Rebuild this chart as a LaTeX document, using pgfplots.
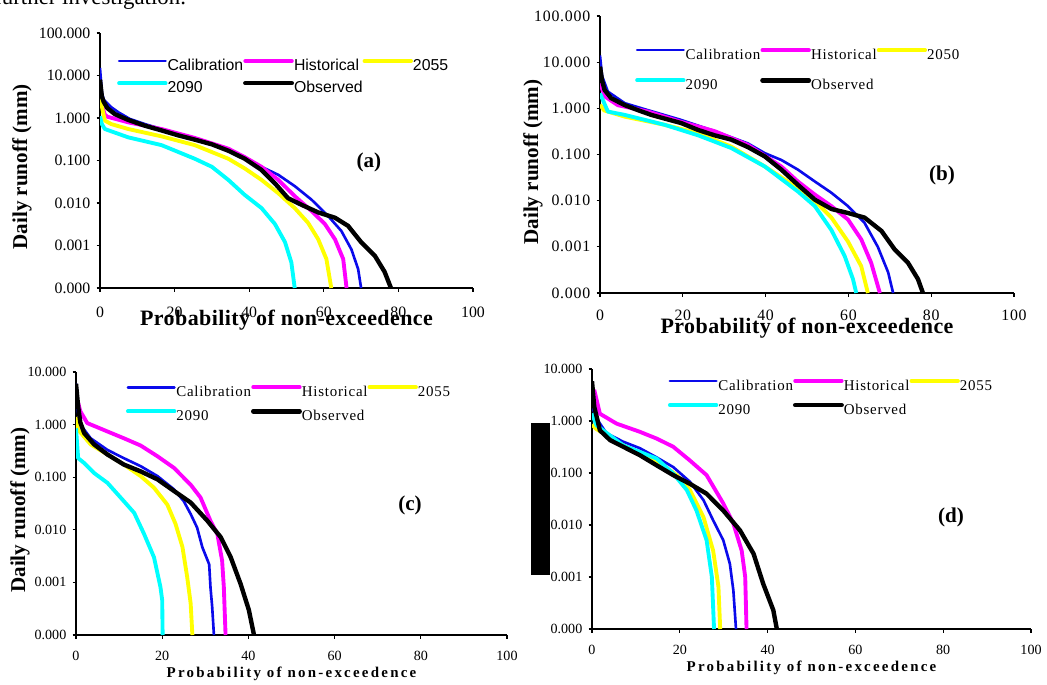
\documentclass[border=0pt]{standalone}
\usepackage{fontspec}
\setmainfont{Liberation Serif}
\newfontfamily\arialf{Liberation Sans}
\newfontfamily\spserif[LetterSpace=5]{Liberation Serif}
\newfontfamily\bigbold[LetterSpace=2]{Liberation Serif}
\newfontfamily\wideserif[LetterSpace=15]{Liberation Serif}
\usepackage{pgfplots}
\pgfplotsset{compat=1.18}

\definecolor{cblue}{RGB}{10,10,235}
\definecolor{cmag}{RGB}{255,0,255}
\definecolor{cyel}{RGB}{255,255,0}
\definecolor{ccyan}{RGB}{0,255,255}

\pgfplotsset{
  fdcaxis/.style={
    scale only axis,
    xmin=0, xmax=100, ymin=1e-4,
    axis x line*=bottom, axis y line*=left,
    axis line style={-, line width=0.6pt},
    tick style={line width=0.6pt, black},
    tick align=outside, major tick length=0.07cm,
    yminorticks=false, xminorticks=false,
    xtick={0,20,40,60,80,100},
    xticklabels={0,20,40,60,80,100},
    ytick={1e-4,1e-3,1e-2,1e-1,1,10,100},
    yticklabels={0.000,0.001,0.010,0.100,1.000,10.000,100.000},
    xticklabel style={anchor=center, yshift=-0.35cm},
    yticklabel style={anchor=east},
    legend columns=3,
    legend cell align=left,
    legend style={draw=none, fill=none, inner sep=0pt, outer sep=0pt,
      anchor=north west,
      nodes={inner xsep=0pt, inner ysep=0pt, text height=6.5pt, text depth=1.5pt},
      every odd column/.style={column sep=0.05cm}},
    legend image code/.code={\draw[##1, line cap=round] (0cm,0.1cm) -- (0.93cm,0.1cm);},
    no marks,
    line join=round,
  },
  cal/.style={color=cblue, line width=1.5pt},
  his/.style={color=cmag, line width=2.2pt},
  fut/.style={color=cyel, line width=2.2pt},
  far/.style={color=ccyan, line width=2.2pt},
  obs/.style={color=black, line width=2.5pt},
}

\begin{document}
\begin{tikzpicture}
\useasboundingbox (0,0) rectangle (20.94cm,13.68cm);
\node[anchor=base west, inner sep=0pt, font=\fontsize{13}{15}\selectfont] at (-0.12cm,13.58cm) {further investigation.};

% ---------------- (a)
\begin{axis}[ymode=log, fdcaxis, at={(2.00cm,7.92cm)}, anchor=south west,
  width=7.46cm, height=5.10cm, ymax=100,
  ticklabel style={font=\fontsize{9}{10}\selectfont},
  xticklabel style={yshift=-0.06cm},
  xlabel={Probability of non-exceedence},
  xlabel style={at={(axis description cs:0.5,-0.125)}, anchor=center, font=\bigbold\fontsize{12.5}{14}\selectfont\bfseries},
  ylabel={Daily runoff (mm)},
  ylabel style={at={(axis description cs:-0.209,0.475)}, anchor=center, font=\fontsize{12}{14}\selectfont\bfseries},
  legend style={at={(axis description cs:0.046,0.898)}, font=\arialf\fontsize{9}{10}\selectfont,
    row sep=0.16cm, column 2/.style={column sep=0.02cm}, column 4/.style={column sep=0.2cm}},
]
\addplot[cal] coordinates {(0,15) (0.5,4) (1,2.7) (3,1.8) (5,1.35) (8,0.95) (12,0.72) (16.5,0.55) (21,0.42) (25.4,0.32) (30,0.25) (34.4,0.18) (38.8,0.12) (43.3,0.071) (47.8,0.046) (52.2,0.025) (56.7,0.012) (61.2,0.0049) (64.7,0.0022) (67.4,0.00081) (69.2,0.00028) (70,0.0001)};
\addlegendentry{Calibration}
\addplot[his] coordinates {(0,3.5) (0.5,2) (1.3,1.2) (2,1.07) (7.6,0.79) (16.5,0.55) (25.4,0.34) (34.4,0.19) (38.8,0.12) (43.3,0.071) (47.8,0.035) (52.2,0.0145) (56.7,0.0065) (60.3,0.0032) (63,0.0014) (65.2,0.00048) (66.1,0.0001)};
\addlegendentry{Historical}
\addplot[fut] coordinates {(0,3) (1.3,0.87) (3,0.72) (7.6,0.55) (16.5,0.37) (25.4,0.23) (34.4,0.11) (38.8,0.065) (43.3,0.035) (47.8,0.017) (52.2,0.0076) (55.8,0.0034) (58.5,0.0014) (60.7,0.00048) (62,0.0001)};
\addlegendentry{2055}
\addplot[far] coordinates {(0,1.1) (0.5,0.72) (1.3,0.55) (7.6,0.35) (16.5,0.23) (25.4,0.11) (30,0.071) (34.4,0.035) (38.8,0.0155) (43.3,0.0076) (46.9,0.0032) (49.6,0.0012) (51.3,0.0004) (52.2,0.0001)};
\addlegendentry{2090}
\addplot[obs] coordinates {(0,8) (0.5,3.2) (1,2.4) (2,1.7) (4,1.23) (7.6,0.9) (12,0.66) (16.5,0.51) (21,0.39) (25.4,0.31) (30,0.24) (34.4,0.17) (38.8,0.11) (43.3,0.06) (46.9,0.029) (50.4,0.013) (54,0.0091) (58.5,0.006) (63,0.0045) (66.5,0.0029) (70,0.0012) (73.7,0.00057) (76.3,0.00024) (78,0.0001)};
\addlegendentry{Observed}
\node[font=\fontsize{12}{14}\selectfont\bfseries] at (axis description cs:0.721,0.494) {(a)};
\end{axis}

% ---------------- (b)
\begin{axis}[ymode=log, fdcaxis, at={(12.00cm,7.82cm)}, anchor=south west,
  width=8.28cm, height=5.54cm, ymax=100,
  ticklabel style={font=\spserif\fontsize{9}{10}\selectfont},
  xticklabel style={yshift=-0.02cm},
  xlabel={Probability of non-exceedence},
  xlabel style={at={(axis description cs:0.5,-0.126)}, anchor=center, font=\bigbold\fontsize{12.5}{14}\selectfont\bfseries},
  ylabel={Daily runoff (mm)},
  ylabel style={at={(axis description cs:-0.162,0.473)}, anchor=center, font=\fontsize{12}{14}\selectfont\bfseries},
  legend style={at={(axis description cs:0.085,0.884)}, font=\spserif\fontsize{8.5}{10}\selectfont,
    row sep=0.32cm, column 2/.style={column sep=0.38cm}, column 4/.style={column sep=0.5cm}},
]
\addplot[cal] coordinates {(0,14) (0.5,5) (1.9,2.3) (6,1.29) (11.6,0.91) (19.6,0.56) (27.7,0.32) (35.7,0.174) (39.8,0.107) (43.8,0.076) (47.8,0.047) (51.9,0.026) (55.9,0.0148) (59.9,0.0076) (63.9,0.0033) (67.1,0.001) (69.6,0.00028) (70.8,0.0001)};
\addlegendentry{Calibration}
\addplot[his] coordinates {(0,3.5) (1.2,1.8) (4.3,1.17) (11.6,0.85) (19.6,0.51) (27.7,0.32) (35.7,0.162) (43.8,0.055) (47.8,0.026) (51.9,0.0135) (55.9,0.0076) (59.9,0.0039) (63.1,0.00145) (65.5,0.00045) (67.6,0.0001)};
\addlegendentry{Historical}
\addplot[fut] coordinates {(0,1.2) (1,0.9) (6,0.66) (15.6,0.44) (23.7,0.29) (31.7,0.148) (39.8,0.055) (47.8,0.0186) (51.9,0.0098) (55.9,0.0043) (59.9,0.0013) (63.1,0.00038) (64.7,0.0001)};
\addlegendentry{2050}
\addplot[far] coordinates {(0,2.1) (1.9,0.85) (6,0.72) (15.6,0.44) (23.7,0.26) (31.7,0.138) (39.8,0.055) (47.8,0.0158) (51.9,0.0076) (55.9,0.0023) (59.1,0.00063) (61.1,0.0002) (61.9,0.0001)};
\addlegendentry{2090}
\addplot[obs] coordinates {(0,8) (0.5,4) (1.1,2.5) (2.7,1.66) (6,1.17) (9.2,0.91) (12.4,0.72) (15.6,0.6) (19.6,0.48) (23.7,0.34) (27.7,0.26) (31.7,0.21) (35.7,0.145) (39.8,0.091) (43.8,0.047) (47.8,0.022) (51.9,0.0105) (55.9,0.0066) (59.9,0.0054) (63.9,0.0043) (68,0.0022) (71.2,0.00087) (74.4,0.00045) (76.8,0.0002) (78,0.0001)};
\addlegendentry{Observed}
\node[font=\fontsize{12}{14}\selectfont\bfseries] at (axis description cs:0.826,0.426) {(b)};
\end{axis}

% ---------------- (c)
\begin{axis}[ymode=log, fdcaxis, at={(1.52cm,0.98cm)}, anchor=south west,
  width=8.62cm, height=5.26cm, ymax=10,
  ticklabel style={font=\fontsize{8}{9}\selectfont},
  xlabel={Probability of non-exceedence},
  xlabel style={at={(axis description cs:0.5,-0.148)}, anchor=center, font=\wideserif\fontsize{8.5}{10}\selectfont\bfseries},
  ylabel={Daily runoff (mm)},
  ylabel style={at={(axis description cs:-0.130,0.475)}, anchor=center, font=\fontsize{12}{14}\selectfont\bfseries},
  legend style={at={(axis description cs:0.116,0.95)}, font=\spserif\fontsize{8.5}{10}\selectfont,
    row sep=0.2cm, column 2/.style={column sep=0.12cm}, column 4/.style={column sep=0.32cm}},
]
\addplot[cal] coordinates {(0,6) (0.3,2) (1.1,0.98) (3.4,0.55) (7.3,0.33) (11.1,0.23) (15,0.162) (18.9,0.105) (22.7,0.059) (25,0.035) (26.6,0.02) (28.1,0.011) (29.3,0.0047) (30.9,0.0022) (31.2,0.00081) (31.6,0.00034) (32,0.0001)};
\addlegendentry{Calibration}
\addplot[his] coordinates {(0.5,2.6) (1,1.8) (2.6,1.07) (7.3,0.74) (11.1,0.55) (15,0.4) (18.9,0.25) (22.7,0.151) (26.6,0.072) (28.9,0.041) (31.2,0.0148) (32.8,0.0083) (33.9,0.0026) (34.3,0.00081) (34.7,0.0001)};
\addlegendentry{Historical}
\addplot[fut] coordinates {(0,1.4) (0.5,0.8) (3.4,0.42) (7.3,0.27) (11.1,0.174) (15,0.105) (18.1,0.063) (21.2,0.03) (23.1,0.0129) (24.7,0.0047) (25.8,0.00126) (26.6,0.0004) (27,0.0001)};
\addlegendentry{2055}
\addplot[far] coordinates {(0,0.85) (0.5,0.23) (1.9,0.186) (4.2,0.12) (7.3,0.078) (11.1,0.035) (13.5,0.021) (15.8,0.0083) (18.1,0.003) (19.6,0.00081) (20,0.00046) (20.1,0.0001)};
\addlegendentry{2090}
\addplot[obs] coordinates {(0,6) (0.5,2.2) (1,1.1) (1.9,0.69) (4.2,0.42) (7.3,0.27) (11.1,0.174) (15,0.129) (18.9,0.091) (22.7,0.055) (26.6,0.033) (30.5,0.0148) (33.6,0.0072) (35.9,0.003) (38.2,0.00093) (40.1,0.0003) (41.3,0.0001)};
\addlegendentry{Observed}
\node[font=\fontsize{12}{14}\selectfont\bfseries] at (axis description cs:0.775,0.494) {(c)};
\end{axis}

% ---------------- (d)
\begin{axis}[ymode=log, fdcaxis, at={(11.84cm,1.10cm)}, anchor=south west,
  width=8.78cm, height=5.20cm, ymax=10,
  ticklabel style={font=\fontsize{8}{9}\selectfont},
  xlabel={Probability of non-exceedence},
  xlabel style={at={(axis description cs:0.5,-0.15)}, anchor=center, font=\wideserif\fontsize{8.5}{10}\selectfont\bfseries},
  legend style={at={(axis description cs:0.173,0.962)}, font=\spserif\fontsize{8.5}{10}\selectfont,
    row sep=0.2cm, column 2/.style={column sep=0.02cm}, column 4/.style={column sep=0.16cm}},
]
\addplot[cal] coordinates {(0,1.9) (1.1,1.1) (3.3,0.58) (7.1,0.4) (10.9,0.3) (14.7,0.2) (18.5,0.13) (22.3,0.068) (25.4,0.03) (27.6,0.0123) (29.9,0.0051) (31.4,0.0018) (32.2,0.00055) (32.8,0.0001)};
\addlegendentry{Calibration}
\addplot[his] coordinates {(0.5,4) (1.8,1.38) (5.6,0.89) (10.9,0.62) (14.7,0.46) (18.5,0.32) (22.3,0.174) (26.1,0.091) (29.9,0.026) (32.2,0.0107) (34.1,0.0032) (34.9,0.001) (35.2,0.0001)};
\addlegendentry{Historical}
\addplot[fut] coordinates {(0,0.85) (1,0.7) (7.1,0.34) (14.7,0.174) (19.3,0.091) (22.3,0.047) (25.4,0.0141) (27.6,0.0032) (28.8,0.00065) (29.2,0.0001)};
\addlegendentry{2055}
\addplot[far] coordinates {(0,1.4) (1,0.83) (7.1,0.34) (14.7,0.19) (18.5,0.098) (21.6,0.047) (23.8,0.019) (26.1,0.0051) (27.3,0.001) (27.8,0.0001)};
\addlegendentry{2090}
\addplot[obs] coordinates {(0,5.8) (0.5,1.9) (1.8,0.66) (4.1,0.43) (7.1,0.32) (10.9,0.22) (14.7,0.141) (18.5,0.091) (22.3,0.062) (26.1,0.04) (29.9,0.019) (33.7,0.0079) (36.8,0.0028) (39,0.00074) (41.3,0.00023) (42.1,0.0001)};
\addlegendentry{Observed}
\node[font=\fontsize{12}{14}\selectfont\bfseries] at (axis description cs:0.818,0.431) {(d)};
\end{axis}

\fill[black] (10.62cm,2.18cm) rectangle (11.00cm,5.22cm);
\end{tikzpicture}
\end{document}
